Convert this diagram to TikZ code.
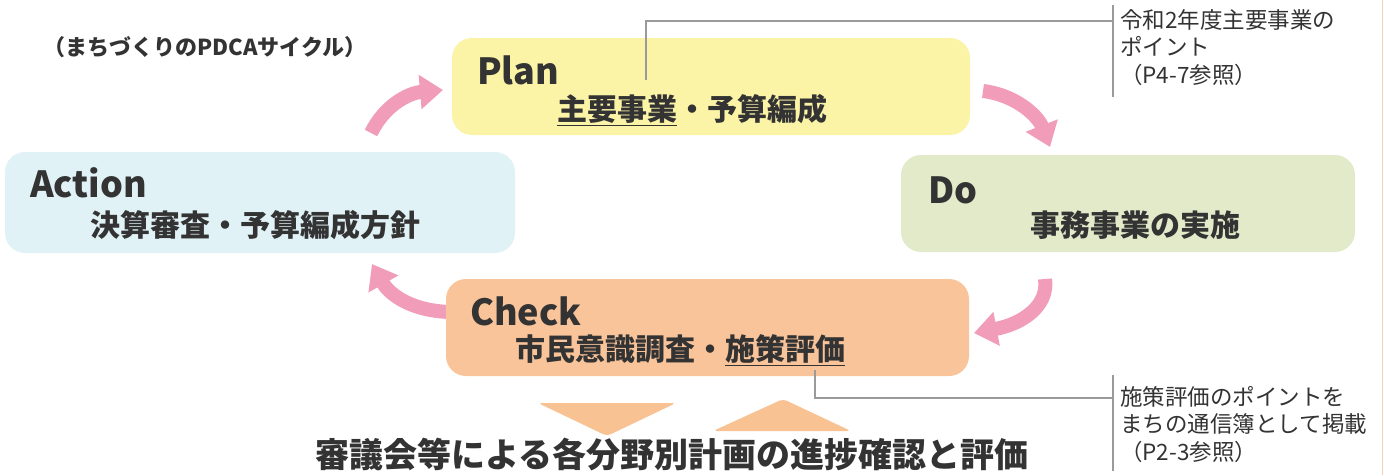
\documentclass[tikz,border=0pt]{standalone}
\usepackage{fontspec}
\setmainfont{Noto Sans CJK JP}
\usetikzlibrary{arrows.meta}
\definecolor{ink}{HTML}{333333}
\definecolor{plancol}{HTML}{FBF3A6}
\definecolor{actcol}{HTML}{E1F2F7}
\definecolor{docol}{HTML}{E2EAC9}
\definecolor{checkcol}{HTML}{F9C49A}
\definecolor{tricol}{HTML}{F9C293}
\definecolor{cyccol}{HTML}{F19DBA}
\definecolor{pincol}{HTML}{9A9A9A}
\definecolor{edgecol}{HTML}{F6D3B8}
\begin{document}
\begin{tikzpicture}[x=1pt,y=-1pt,
  box/.style={rounded corners=20pt, inner sep=0pt},
  head/.style={inner sep=0pt, text=ink, font=\fontsize{36}{40}\selectfont\bfseries},
  sub/.style={inner sep=0pt, text=ink, font=\fontsize{30}{32}\selectfont\bfseries},
  note/.style={inner sep=0pt, text=ink, align=left, font=\fontsize{22.5}{27.5}\selectfont},
  pin/.style={draw=pincol, line width=2pt},
  cyc/.style={draw=cyccol, line width=14pt, -{Triangle[width=33pt,length=23pt]}}]
\useasboundingbox (0,0) rectangle (1384,475);
\draw[edgecol, line width=1pt] (1382.5,0) -- (1382.5,475);
% cycle arrows
\coordinate (a1s) at (371,133);
\coordinate (a1e) at (443,90);
\coordinate (a2s) at (983,91);
\coordinate (a2e) at (1050,147);
\coordinate (a3s) at (1045,279);
\coordinate (a3e) at (974,333);
\coordinate (a4s) at (462,312);
\coordinate (a4e) at (372,264);
\draw[cyc] (a1s) .. controls (384,106) and (408,93) .. (a1e);
\draw[cyc] (a2s) .. controls (1016,95) and (1038,116) .. (a2e);
\draw[cyc] (a3s) .. controls (1049,306) and (1022,324) .. (a3e);
\draw[cyc] (a4s) .. controls (410,314) and (388,292) .. (a4e);
% boxes
\node[box, fill=plancol, minimum width=518pt, minimum height=97pt] (plan) at (711,86.5) {};
\node[box, fill=actcol, minimum width=510pt, minimum height=101pt] (act) at (260,202.5) {};
\node[box, fill=docol, minimum width=454pt, minimum height=97pt] (do) at (1128,203.5) {};
\node[box, fill=checkcol, minimum width=523pt, minimum height=97pt] (check) at (707.5,327.5) {};
\node[head, anchor=base west] (plantitle) at (477,84) {Plan};
\node[sub, anchor=west] (plansub) at (557,110) {\underline{主要事業}・予算編成};
\node[head, anchor=base west] (acttitle) at (30,197) {Action};
\node[sub, anchor=west] (actsub) at (90,225) {決算審査・予算編成方針};
\node[head, anchor=base west] (dotitle) at (928,203) {Do};
\node[sub, anchor=west] (dosub) at (1030,225) {事務事業の実施};
\node[head, anchor=base west] (checktitle) at (470,325) {Check};
\node[sub, anchor=west] (checksub) at (515,350) {市民意識調査・\underline{施策評価}};
% title
\node[inner sep=0pt, text=ink, font=\fontsize{22}{24}\selectfont\bfseries] (title) at (205,47) {（まちづくりのPDCAサイクル）};
% callouts
\coordinate (pin1) at (646,80);
\coordinate (pin1b) at (646,21);
\coordinate (bar1) at (1113,21);
\coordinate (bar1t) at (1113,5);
\coordinate (bar1b) at (1113,97);
\draw[pin] (pin1) -- (pin1b) -- (bar1);
\draw[pin] (bar1t) -- (bar1b);
\node[note, anchor=north west] (note1) at (1120,9) {令和2年度主要事業の\\ポイント\\（P4-7参照）};
\coordinate (pin2) at (815,370);
\coordinate (pin2b) at (815,398);
\coordinate (bar2) at (1113,398);
\coordinate (bar2t) at (1113,375);
\coordinate (bar2b) at (1113,471);
\draw[pin] (pin2) -- (pin2b) -- (bar2);
\draw[pin] (bar2t) -- (bar2b);
\node[note, anchor=north west] (note2) at (1120,386) {施策評価のポイントを\\まちの通信簿として掲載\\（P2-3参照）};
% review triangles
\fill[tricol, rounded corners=4pt] (538,403) -- (676,403) -- (607,436) -- cycle;
\fill[tricol, rounded corners=4pt] (713,431) -- (783,399) -- (851,431) -- cycle;
\node[inner sep=0pt, text=ink, font=\fontsize{34}{36}\selectfont\bfseries] (review) at (672,455) {審議会等による各分野別計画の進捗確認と評価};
\end{tikzpicture}
\end{document}
